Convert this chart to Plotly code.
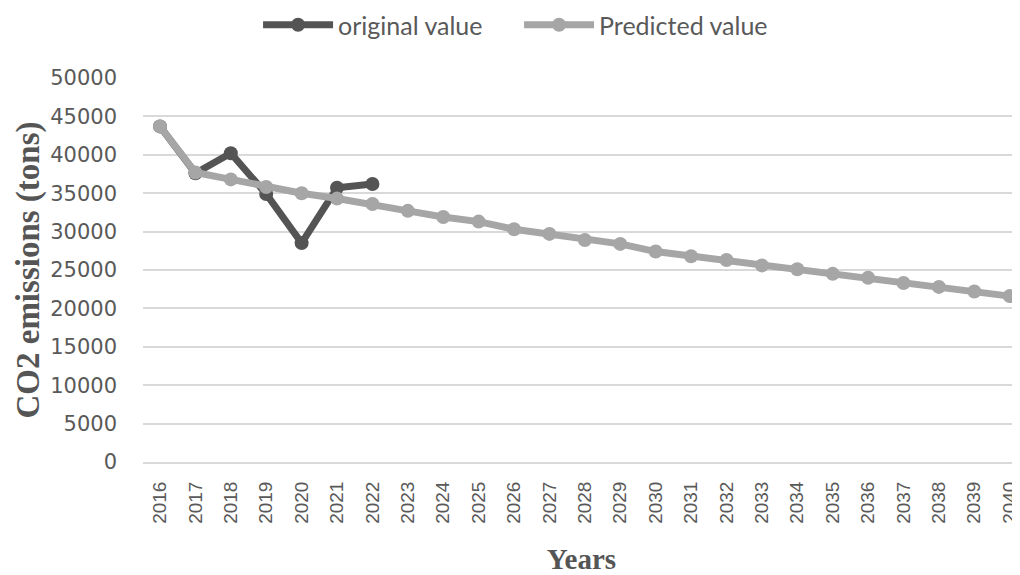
import plotly.graph_objects as go

years = [str(y) for y in range(2016, 2041)]
original_years = years[:7]
original_values = [43700, 37600, 40200, 34900, 28500, 35700, 36200]
predicted_values = [43700, 37700, 36800, 35800, 35000, 34300, 33600, 32700, 31900, 31300,
                    30300, 29700, 28900, 28400, 27400, 26800, 26300, 25600, 25100, 24500,
                    24000, 23300, 22800, 22200, 21600]
y_ticks = list(range(0, 50001, 5000))

fig = go.Figure()
fig.add_trace(go.Scatter(
    x=original_years, y=original_values, name="original value",
    mode="lines+markers",
    line=dict(color="#545454", width=7),
    marker=dict(color="#545454", size=14),
    cliponaxis=False,
))
fig.add_trace(go.Scatter(
    x=years, y=predicted_values, name="Predicted value",
    mode="lines+markers",
    line=dict(color="#a6a6a6", width=7),
    marker=dict(color="#a6a6a6", size=14),
    cliponaxis=False,
))

fig.update_layout(
    width=1012, height=567,
    margin=dict(l=135, r=0, t=70, b=113, autoexpand=False),
    paper_bgcolor="white", plot_bgcolor="white",
    font=dict(family="Lato, Open Sans, sans-serif", color="#595959"),
    showlegend=True,
    legend=dict(orientation="h", x=0.505, xanchor="center", xref="container",
                y=0.97, yanchor="middle", yref="container",
                font=dict(size=25, color="#595959"),
                itemwidth=70, entrywidth=176, traceorder="normal"),
    xaxis=dict(
        type="category", range=[-0.48, 24.29], automargin=False,
        tickangle=-90,
        tickfont=dict(family="Liberation Sans Narrow, Arial Narrow, sans-serif", size=19, color="#595959"),
        showgrid=False, showline=True, linecolor="#d9d9d9", linewidth=2,
        ticks="", ticklabelstandoff=10,
        title=dict(text="<b>Years</b>", font=dict(family="Liberation Serif, serif", size=29, color="#555555"),
                   standoff=26),
    ),
    yaxis=dict(
        range=[0, 50000], tickvals=y_ticks, tickformat="d", automargin=False,
        tickfont=dict(family="DejaVu Sans, sans-serif", size=21, color="#595959"),
        showgrid=True, gridcolor="#d9d9d9", gridwidth=2,
        zeroline=False, showline=False, ticks="", ticklabelstandoff=25,
        title=dict(text="<b>CO2 emissions (tons)</b>",
                   font=dict(family="Liberation Serif, serif", size=33, color="#555555"),
                   standoff=0),
    ),
)

fig.write_html("out.html")
